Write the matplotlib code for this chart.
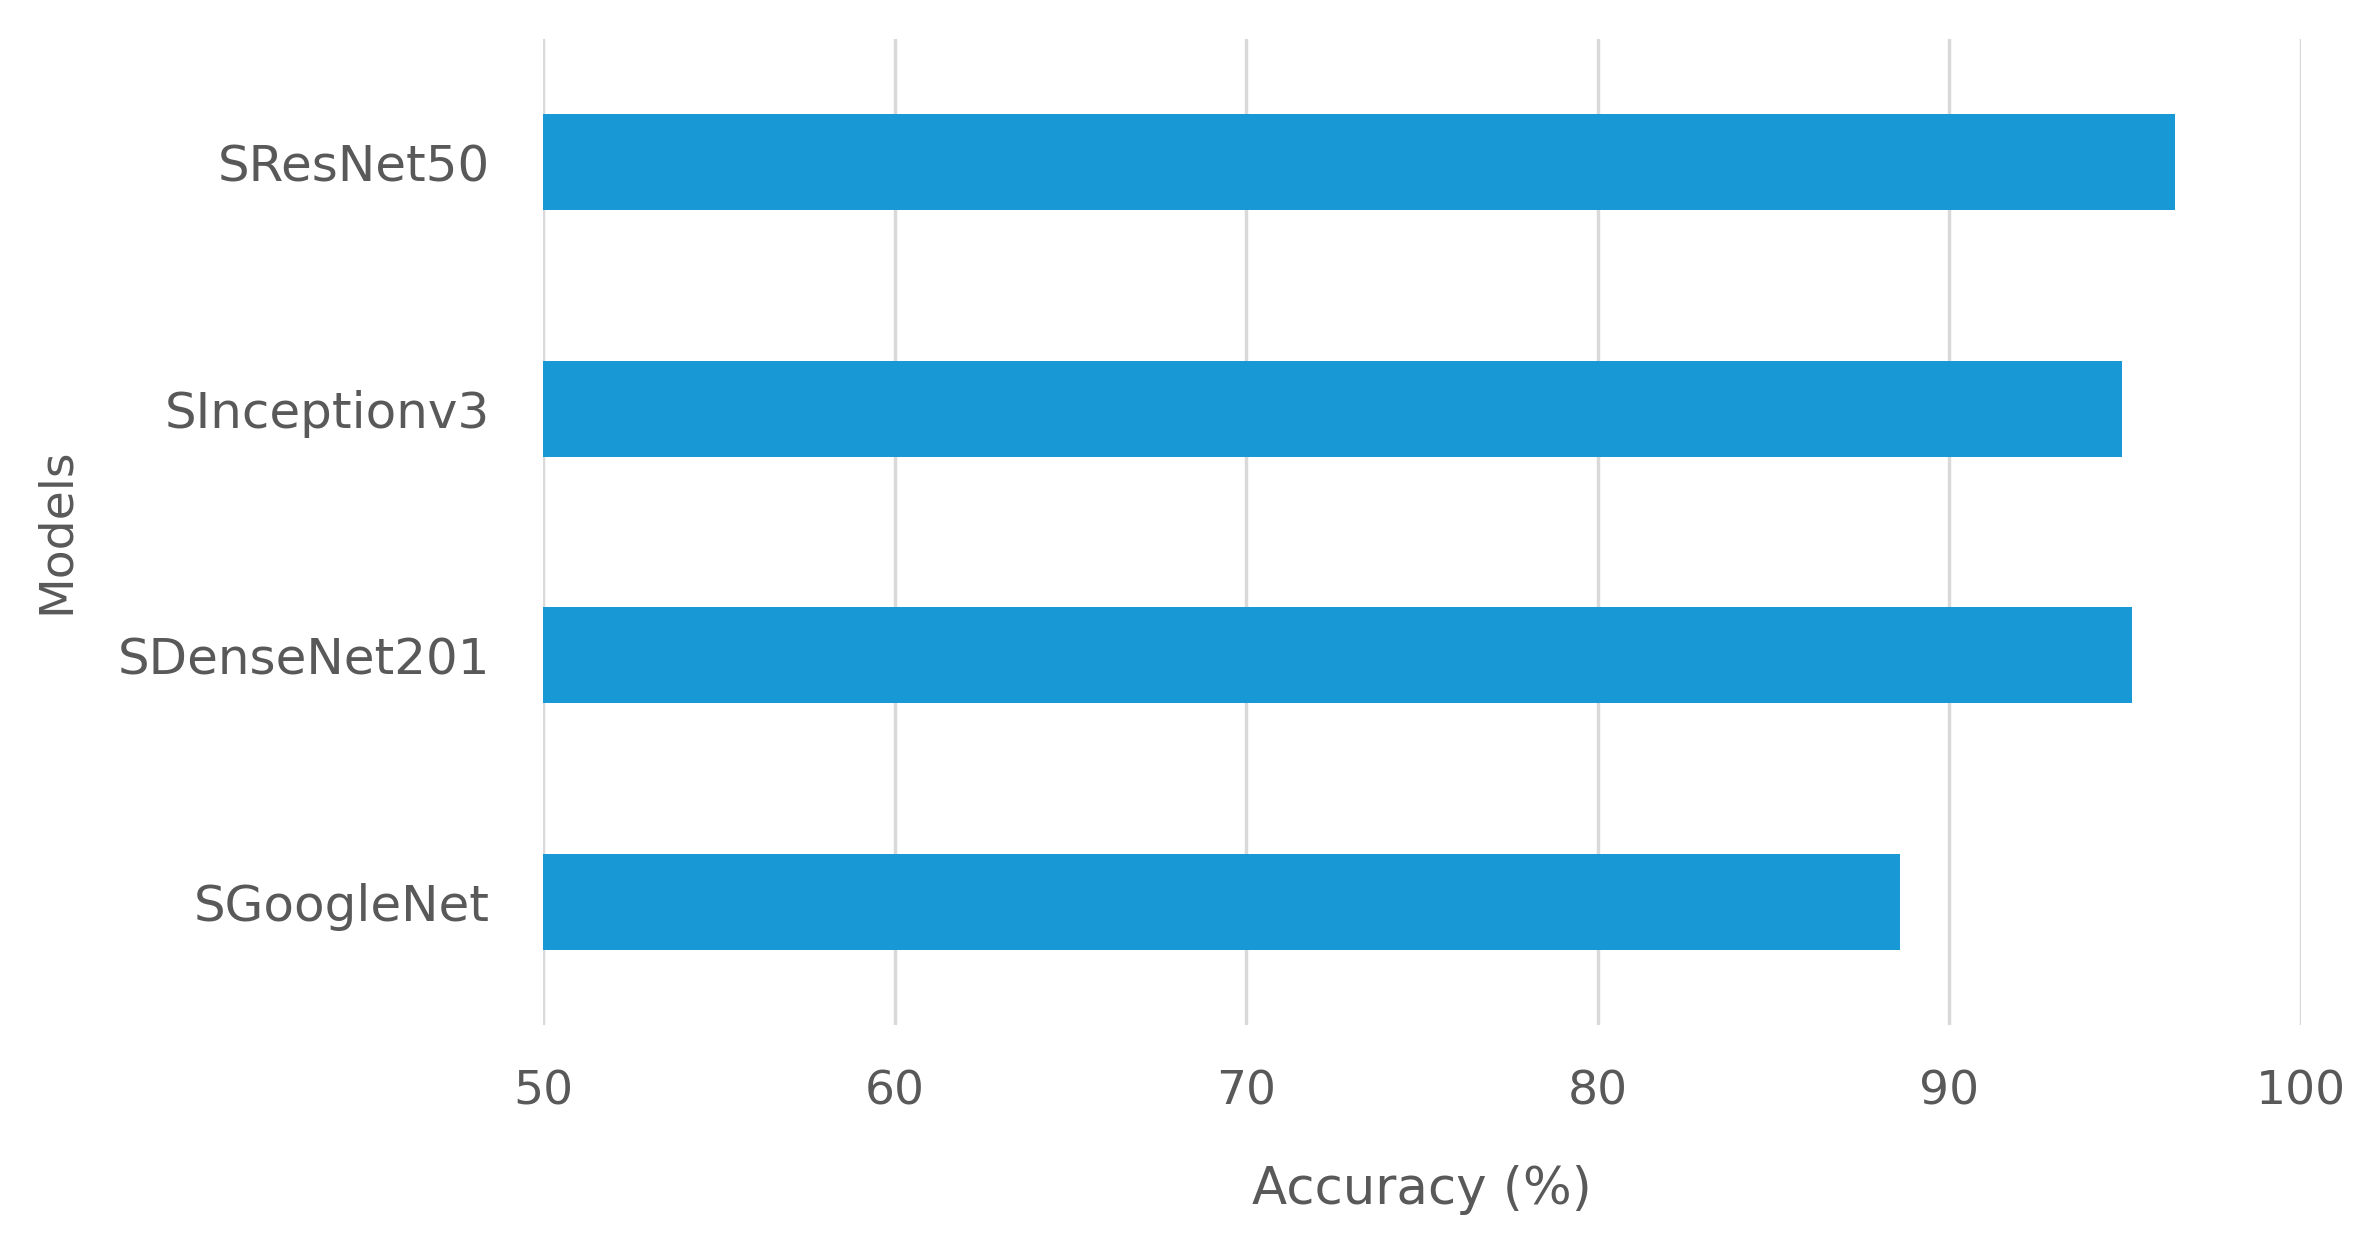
import matplotlib
matplotlib.use("Agg")
import matplotlib.pyplot as plt
import numpy as np

# --- dados ---
models = ["SGoogleNet", "SDenseNet201", "SInceptionv3", "SResNet50"]
accuracy = [88.6, 95.2, 94.9, 96.4]
xticks = [50, 60, 70, 80, 90, 100]

bar_color = "#1899D6"
text_color = "#595959"
grid_color = "#D9D9D9"

fig = plt.figure(figsize=(23.64, 12.44), dpi=100)
ax = fig.add_axes([0.2297, 0.176, 0.7437, 0.7926])

y = np.arange(len(models))
ax.barh(y, [a - 50 for a in accuracy], left=50, height=0.39, color=bar_color, zorder=3)

ax.set_xlim(50, 100)
ax.set_ylim(-0.5, len(models) - 0.5)
ax.set_xticks(xticks)
ax.set_xticklabels([str(t) for t in xticks])
ax.set_yticks(y)
ax.set_yticklabels(models)

ax.tick_params(axis="both", length=0, colors=text_color)
ax.tick_params(axis="y", labelsize=36, pad=38)
ax.tick_params(axis="x", labelsize=34, pad=32)

ax.grid(axis="x", color=grid_color, linewidth=2.5, zorder=0)
ax.grid(axis="y", visible=False)
for s in ax.spines.values():
    s.set_visible(False)

ax.set_xlabel("Accuracy (%)", fontsize=37, color=text_color, labelpad=36)
fig.text(0.0237, 0.573, "Models", rotation=90, fontsize=34, color=text_color,
         ha="center", va="center")

fig.savefig("out.png", dpi=100, facecolor="white")
